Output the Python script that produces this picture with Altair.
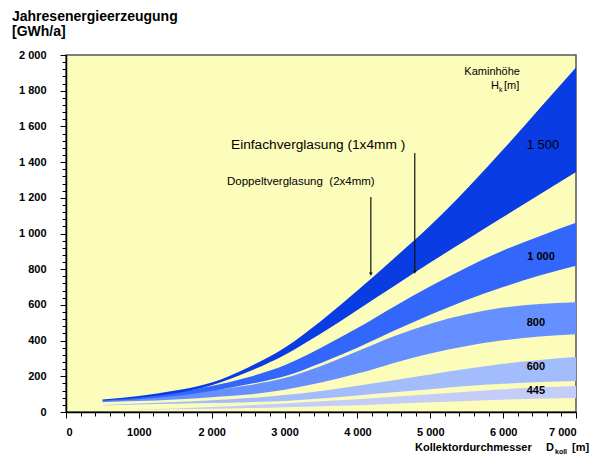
import altair as alt
import pandas as pd

# ---------------- data ----------------
D = [500, 1000, 1500, 2000, 2500, 3000, 3500, 4000, 4500, 5000, 5500, 6000, 6500, 7000]

hk_names = ["445", "600", "800", "1000", "1500"]
hk_colors = ["#c3cdf8", "#a3bdfc", "#6690ff", "#3366fb", "#0a3ce3"]

# upper = Doppeltverglasung, lower = Einfachverglasung (GWh/a)
h1500_hi = [70, 90, 120, 165, 250, 360, 510, 680, 860, 1045, 1250, 1470, 1700, 1930]
h1500_lo = [64, 80, 105, 150, 225, 320, 440, 572, 705, 837, 965, 1092, 1219, 1345]
h1000_hi = [66, 85, 110, 145, 195, 262, 360, 470, 590, 705, 810, 905, 985, 1060]
h1000_lo = [60, 72, 90, 118, 155, 200, 275, 360, 455, 545, 627, 700, 765, 820]
h800_hi = [60, 75, 94, 120, 150, 190, 258, 340, 425, 495, 548, 585, 605, 615]
h800_lo = [55, 61, 70, 83, 98, 125, 165, 215, 275, 328, 370, 402, 423, 435]
h600_hi = [38, 48, 56, 66, 78, 95, 118, 147, 178, 210, 242, 270, 292, 308]
h600_lo = [36, 42, 46, 50, 55, 62, 75, 92, 110, 128, 145, 158, 168, 174]
h445_hi = [None, 14, 20, 28, 38, 48, 60, 72, 86, 100, 114, 127, 138, 146]
h445_lo = [None, 12, 15, 18, 22, 27, 32, 38, 46, 54, 62, 69, 74, 78]

y_ticks = list(range(0, 2001, 40))
x_ticks = list(range(0, 7001, 200))

band_labels = ["1 500", "1 000", "800", "600", "445"]
band_label_D = [6547, 6520, 6450, 6450, 6450]
band_label_y = [1496, 868, 499, 252, 118]

arrow_D = [4184, 4787]
arrow_top = [1204, 1451]
arrow_tip = [773, 784]

# ---------------- build table ----------------
rows = []
series = {
    "445": (h445_lo, h445_hi),
    "600": (h600_lo, h600_hi),
    "800": (h800_lo, h800_hi),
    "1000": (h1000_lo, h1000_hi),
    "1500": (h1500_lo, h1500_hi),
}
for name in hk_names:
    lo, hi = series[name]
    for d, l, h in zip(D, lo, hi):
        if l is None:
            continue
        rows.append({"D": d, "lo": l, "hi": h, "H": name})
df = pd.DataFrame(rows)

FONT = "Liberation Sans"
xs = alt.Scale(domain=[0, 7000], nice=False, zero=False)
ys = alt.Scale(domain=[0, 2000], nice=False)

y_label_expr = (
    "datum.value % 200 !== 0 ? '' : (datum.value >= 1000 ? "
    "floor(datum.value/1000) + ' ' + format(datum.value % 1000, '03d') : '' + datum.value)"
)
x_label_expr = (
    "datum.value % 1000 !== 0 ? '' : (datum.value == 1000 ? '1000' : "
    "(datum.value >= 1000 ? floor(datum.value/1000) + ' 000' : '0'))"
)

x_axis = alt.Axis(
    values=x_ticks, title=None, labelExpr=x_label_expr, labelOverlap=False,
    tickSize={"condition": {"test": "datum.value % 1000 === 0", "value": 6}, "value": 4},
    labelPadding=8, grid=False,
)
y_axis = alt.Axis(
    values=y_ticks, title=None, labelExpr=y_label_expr, labelOverlap=False,
    tickSize={"condition": {"test": "datum.value % 200 === 0", "value": 6}, "value": 4},
    labelPadding=14, grid=False,
)

X = lambda f: alt.X(f, scale=xs, axis=x_axis)
Y = lambda f: alt.Y(f, scale=ys, axis=y_axis)

bands = alt.Chart(df).mark_area(interpolate="monotone").encode(
    x=X("D:Q"),
    y=Y("lo:Q"),
    y2="hi:Q",
    color=alt.Color("H:N", scale=alt.Scale(domain=hk_names, range=hk_colors), legend=None),
)

adf = pd.DataFrame({"D": arrow_D, "top": arrow_top, "tip": arrow_tip})
arrows = alt.Chart(adf).mark_rule(color="#111", strokeWidth=1.2).encode(
    x=X("D:Q"), y=Y("top:Q"), y2="tip:Q"
)
heads = alt.Chart(adf).mark_point(shape="triangle-down", filled=True, color="#111", size=14, opacity=1).encode(
    x=X("D:Q"), y=Y("tip:Q")
)

ldf = pd.DataFrame({"D": band_label_D, "y": band_label_y, "t": band_labels})
lab_big = alt.Chart(ldf.iloc[[0]]).mark_text(font=FONT, fontSize=13, color="#000").encode(
    x=X("D:Q"), y=Y("y:Q"), text="t:N")
lab_small = alt.Chart(ldf.iloc[1:]).mark_text(font=FONT, fontSize=11, fontWeight="bold", color="#000").encode(
    x=X("D:Q"), y=Y("y:Q"), text="t:N")

def txt(t, d, y, size=11, weight="normal", align="left", dx=0, dy=0):
    return alt.Chart(pd.DataFrame({"D": [d], "y": [y], "t": [t]})).mark_text(
        font=FONT, fontSize=size, fontWeight=weight, align=align, dx=dx, dy=dy, color="#000"
    ).encode(x=X("D:Q"), y=Y("y:Q"), text="t:N")

def ptxt(t, px, py, size=11, weight="normal", align="left"):
    return alt.Chart(pd.DataFrame({"t": [t]})).mark_text(
        font=FONT, fontSize=size, fontWeight=weight, align=align, baseline="middle", color="#000"
    ).encode(x=alt.value(px), y=alt.value(py), text="t:N")

annots = [
    txt("Einfachverglasung (1x4mm )", 2265, 1496, size=13.7),
    txt("Doppeltverglasung\u00a0 (2x4mm)", 2210, 1289, size=11.5),
    txt("Kaminhöhe", 6231, 1905, size=11, align="right"),
    txt("H", 5833, 1826, size=11),
    txt("k", 5833, 1826, size=7, dx=8, dy=4),
    txt("[m]", 5833, 1826, size=11, dx=13),
    ptxt("Jahresenergieerzeugung", -54, -38, size=14, weight="bold"),
    ptxt("[GWh/a]", -54, -23, size=14, weight="bold"),
    ptxt("Kollektordurchmesser", 349, 393, size=11, weight="bold"),
    ptxt("D", 480, 393, size=11, weight="bold"),
    ptxt("koll", 489, 397, size=7, weight="bold"),
    ptxt("[m]", 506, 393, size=11, weight="bold"),
]

chart = alt.layer(bands, arrows, heads, lab_big, lab_small, *annots).properties(
    width=510, height=357,
    padding={"left": 66, "top": 55, "right": 16, "bottom": 45},
    autosize=alt.AutoSizeParams(type="none"),
    background="white",
).configure_view(
    fill="#fcfcbb", stroke="#555", strokeWidth=1.5
).configure_axis(
    domainColor="#000", domainWidth=1.5, tickColor="#000", tickWidth=1,
    labelFont=FONT, labelFontSize=11, labelFontWeight="bold", labelColor="#000",
)

chart.save("out.html", embed_options={"renderer": "svg", "actions": False})
